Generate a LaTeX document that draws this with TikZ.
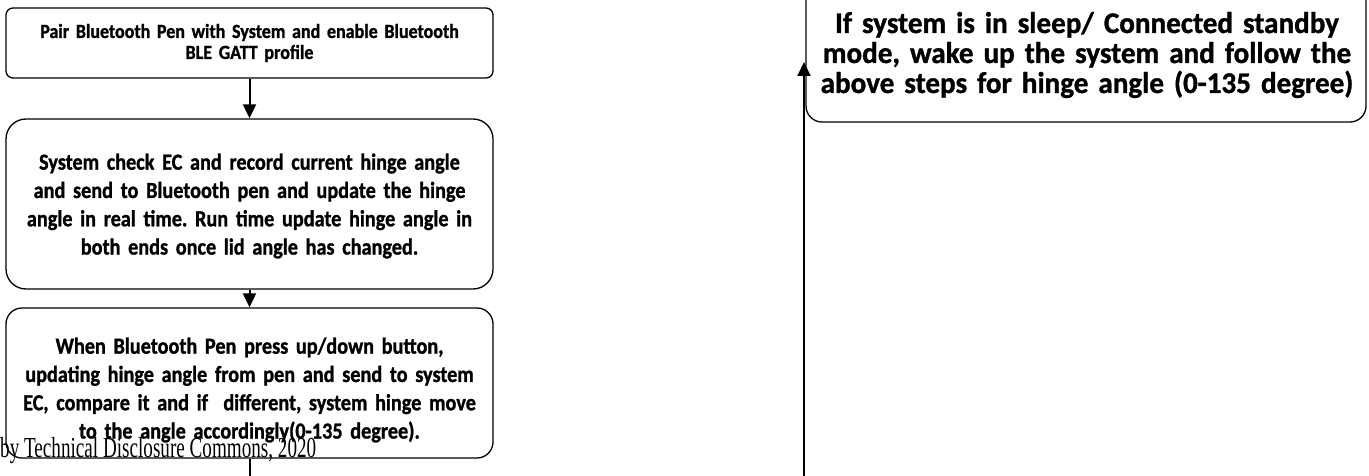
\documentclass[tikz,border=0pt]{standalone}
\usepackage{fontspec}
\setmainfont{Carlito}
\newfontfamily\fonta[FakeStretch=0.90, FakeBold=1.1]{Carlito}
\newfontfamily\fontb[FakeStretch=0.88, FakeBold=1.1]{Carlito}
\newfontfamily\fontc[FakeStretch=0.97, FakeBold=1.1]{Carlito}
\newfontfamily\footfont[FakeStretch=0.66]{Liberation Serif}
\usetikzlibrary{arrows.meta}
\tikzset{
  stepbox/.style={draw=black, line width=1.3pt, fill=white, inner sep=0pt, minimum width=487pt},
  steptext/.style={align=center, inner sep=0pt, text width=484pt},
  smalltext/.style={font=\fonta\bfseries\fontsize{20}{21}\selectfont},
  bigtext/.style={font=\fontb\bfseries\fontsize{23}{28.3}\selectfont},
  widetext/.style={font=\fontc\bfseries\fontsize{30}{30}\selectfont},
  arr/.style={line width=2pt, -{Triangle[width=13pt,length=14pt]}},
  plain/.style={line width=2pt}
}
\begin{document}
\frenchspacing
\begin{tikzpicture}[x=1pt,y=-1pt]
\useasboundingbox (0,0) rectangle (1369,476);
% boxes
\node[stepbox, rounded corners=7pt, minimum height=70pt] (b1) at (249.5,43) {};
\node[stepbox, rounded corners=20pt, minimum height=170pt] (b2) at (249.5,204) {};
\node[stepbox, rounded corners=16pt, minimum height=150pt] (b3) at (249.5,383) {};
\node[stepbox, rounded corners=16pt, minimum width=560pt, minimum height=142pt] (b4) at (1086,51) {};
% texts
\node[steptext, smalltext] (t1) at (249.5,43)
  {Pair Bluetooth Pen with System and enable Bluetooth\\BLE GATT profile};
\node[steptext, bigtext] (t2) at (249.5,206)
  {System check EC and record current hinge angle\\and send to Bluetooth pen and update the hinge\\angle in real time. Run time update hinge angle in\\both ends once lid angle has changed.};
\node[steptext, bigtext] (t3) at (249.5,390)
  {When Bluetooth Pen press up/down button,\\updating hinge angle from pen and send to system\\EC, compare it and if\ \ different, system hinge move\\to the angle accordingly(0-135 degree).};
\node[steptext, widetext, text width=556pt] (t4) at (1087,55)
  {If system is in sleep/ Connected standby\\mode, wake up the system and follow the\\above steps for hinge angle (0-135 degree)};
% connectors
\draw[arr] (b1.south) -- (b2.north);
\draw[arr] (b2.south) -- (b3.north);
\coordinate (lend) at (249.5,480);
\draw[plain] (b3.south) -- (lend);
\coordinate (rstart) at (804,480);
\coordinate (rtip) at (804,62);
\draw[arr] (rstart) -- (rtip);
% footer
\node[anchor=base west, inner sep=0pt, font=\footfont\fontsize{29}{29}\selectfont] (foot) at (0,457)
  {by Technical Disclosure Commons, 2020};
\end{tikzpicture}
\end{document}
